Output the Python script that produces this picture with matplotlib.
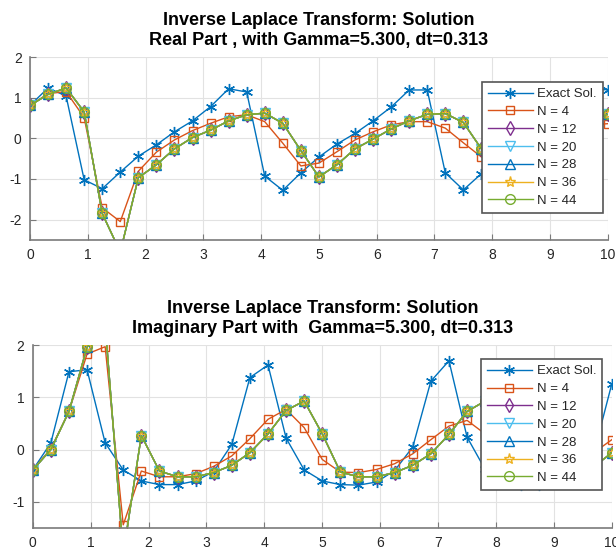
from __future__ import annotations

import matplotlib

matplotlib.use("Agg")
import matplotlib.pyplot as plt
import numpy as np


DT = 0.3125
N_VALUES = [4, 12, 20, 28, 36, 44]

# real part: exact solution, N = 4 and the converged runs (N = 12 .. 44 coincide)
RE_EXACT = [0.81, 1.24, 1.04, -1.02, -1.24, -0.83, -0.44, -0.16, 0.16, 0.43,
            0.78, 1.22, 1.14, -0.93, -1.28, -0.85, -0.46, -0.14, 0.12, 0.43,
            0.77, 1.19, 1.19, -0.85, -1.27, -0.87, -0.47, -0.15, 0.12, 0.42,
            0.76, 1.18, 1.20]
RE_N4 = [0.81, 1.10, 1.15, 0.51, -1.71, -2.05, -0.81, -0.34, -0.04, 0.19,
         0.37, 0.53, 0.58, 0.41, -0.12, -0.68, -0.61, -0.33, -0.04, 0.16,
         0.33, 0.41, 0.41, 0.25, -0.11, -0.46, -0.58, -0.38, -0.12, 0.08,
         0.24, 0.33, 0.36]
RE_NHIGH = [0.81, 1.08, 1.24, 0.65, -1.85, -2.80, -0.97, -0.65, -0.26, 0.02,
            0.20, 0.43, 0.58, 0.62, 0.37, -0.30, -0.95, -0.65, -0.26, -0.02,
            0.23, 0.43, 0.59, 0.61, 0.39, -0.26, -0.95, -0.65, -0.26, 0.00,
            0.22, 0.43, 0.59]

# imaginary part
IM_EXACT = [-0.39, 0.13, 1.49, 1.53, 0.13, -0.39, -0.60, -0.67, -0.67, -0.60,
            -0.42, 0.10, 1.38, 1.62, 0.22, -0.39, -0.60, -0.67, -0.68, -0.62,
            -0.40, 0.05, 1.31, 1.70, 0.24, -0.38, -0.60, -0.67, -0.67, -0.60,
            -0.42, -0.08, 1.26]
IM_N4 = [-0.39, 0.02, 0.73, 1.83, 1.97, -1.44, -0.41, -0.52, -0.52, -0.46,
         -0.32, -0.12, 0.21, 0.58, 0.77, 0.42, -0.19, -0.43, -0.44, -0.38,
         -0.27, -0.08, 0.19, 0.45, 0.56, 0.30, -0.20, -0.42, -0.44, -0.38,
         -0.27, -0.06, 0.19]
IM_NHIGH = [-0.39, 0.00, 0.73, 1.96, 2.40, -2.00, 0.27, -0.41, -0.52, -0.52,
            -0.44, -0.30, -0.06, 0.30, 0.75, 0.93, 0.30, -0.43, -0.52, -0.52,
            -0.44, -0.30, -0.08, 0.29, 0.73, 0.93, 0.30, -0.43, -0.52, -0.52,
            -0.44, -0.33, -0.06]

X_TICKS = list(range(0, 11))
RE_YTICKS = [-2, -1, 0, 1, 2]
IM_YTICKS = [-1, 0, 1, 2]

RE_TITLE = "Inverse Laplace Transform: Solution\nReal Part , with Gamma=5.300, dt=0.313"
IM_TITLE = "Inverse Laplace Transform: Solution\nImaginary Part with  Gamma=5.300, dt=0.313"

STYLES = {
    "exact": dict(color="#0072BD", marker=(6, 2, 0), ms=8),
    4: dict(color="#D95319", marker="s", ms=6),
    12: dict(color="#7E2F8E", marker="d", ms=7),
    20: dict(color="#4DBEEE", marker="v", ms=7),
    28: dict(color="#0072BD", marker="^", ms=7),
    36: dict(color="#EDB120", marker="*", ms=8),
    44: dict(color="#77AC30", marker="o", ms=7),
}

plt.rcParams["font.family"] = ["Liberation Sans", "DejaVu Sans"]
plt.rcParams["axes.unicode_minus"] = False


def draw_panel(ax, exact, n4, nhigh, ylim, yticks, title, legend_anchor):
    t = np.arange(len(exact)) * DT
    series = [("Exact Sol.", exact, STYLES["exact"])]
    for n in N_VALUES:
        values = n4 if n == 4 else nhigh
        series.append((f"N = {n}", values, STYLES[n]))

    for label, values, st in series:
        ax.plot(t, values, color=st["color"], lw=1.0, marker=st["marker"],
                ms=st["ms"], mfc="none", mec=st["color"], mew=1.0, label=label)

    ax.set_xlim(0, 10)
    ax.set_ylim(*ylim)
    ax.set_xticks(X_TICKS)
    ax.set_yticks(yticks)
    ax.grid(True, color="#e2e2e2", lw=0.8)
    ax.set_axisbelow(True)
    for side in ("top", "right"):
        ax.spines[side].set_visible(False)
    for side in ("left", "bottom"):
        ax.spines[side].set_color("#7a7a7a")
        ax.spines[side].set_linewidth(1.2)
    ax.tick_params(direction="in", length=4, color="#7a7a7a",
                   labelsize=10, labelcolor="#262626", pad=6)
    ax.set_title(title, fontsize=13, fontweight="bold", pad=9, linespacing=1.2)

    leg = ax.legend(loc="upper right", bbox_to_anchor=legend_anchor,
                    borderaxespad=0, fontsize=9.5, handlelength=3.4,
                    handletextpad=0.35, labelspacing=0.42, borderpad=0.45,
                    fancybox=False, framealpha=1.0, edgecolor="#555555")
    leg.get_frame().set_linewidth(1.2)
    for text in leg.get_texts():
        text.set_color("#262626")


def main() -> None:
    fig = plt.figure(figsize=(6.16, 5.54), dpi=100)
    ax_re = fig.add_axes([0.0487, 0.567, 0.938, 0.330])
    ax_im = fig.add_axes([0.0532, 0.047, 0.940, 0.330])

    draw_panel(ax_re, RE_EXACT, RE_N4, RE_NHIGH, (-2.5, 2), RE_YTICKS,
               RE_TITLE, (0.991, 0.863))
    draw_panel(ax_im, IM_EXACT, IM_N4, IM_NHIGH, (-1.5, 2), IM_YTICKS,
               IM_TITLE, (0.983, 0.923))

    fig.savefig("out.png", dpi=100, facecolor="white")
    plt.close(fig)


if __name__ == "__main__":
    main()
